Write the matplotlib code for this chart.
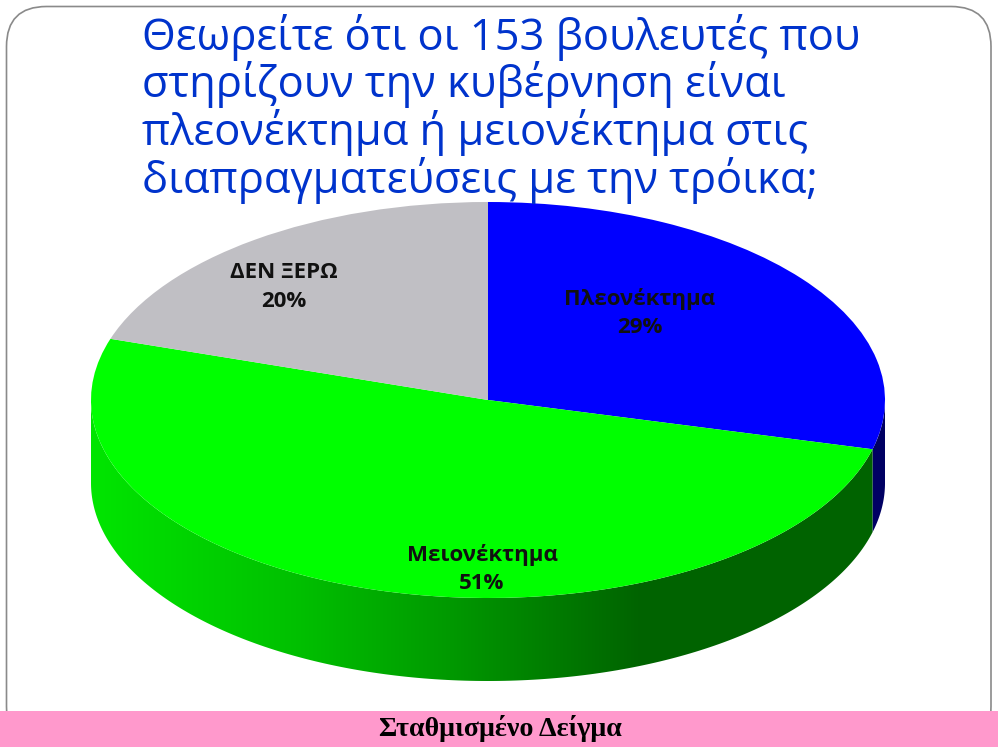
import numpy as np
import matplotlib
matplotlib.use('Agg')
import matplotlib.pyplot as plt
from matplotlib.patches import FancyBboxPatch, Rectangle, Polygon

W, H = 998, 747

title_lines = ['Θεωρείτε ότι οι 153 βουλευτές που',
               'στηρίζουν την κυβέρνηση είναι',
               'πλεονέκτημα ή μειονέκτημα στις',
               'διαπραγματεύσεις με την τρόικα;']
categories = ['Πλεονέκτημα', 'Μειονέκτημα', 'ΔΕΝ ΞΕΡΩ']
values = [29, 51, 20]
top_colors = ['#0000ff', '#00ff00', '#c0bfc4']
footer = 'Σταθμισμένο Δείγμα'

# pie ellipse in pixels
cx, cy = 488, 400
rx, ry = 397, 198
depth = 83 / ry


def draw_side(ax, a0, a1, base):
    # a0, a1 are clockwise degrees from the top of the pie
    a = np.radians(np.linspace(a0, a1, 200))
    xs = np.sin(a)
    ys = np.cos(a)
    outline = np.column_stack([np.r_[xs, xs[::-1]], np.r_[ys, ys[::-1] - depth]])
    # shading of the wall, lighter on the left and dark from x=640 on
    grid = np.linspace(-1, 1, 2 * rx)
    k = np.interp(cx + rx * grid, [91, 300, 450, 640, 885], [0.90, 0.75, 0.60, 0.39, 0.39])
    img = np.outer(k, base).reshape(1, len(grid), 3)
    im = ax.imshow(img, extent=(-1, 1, -1 - depth, 1), aspect='auto', zorder=1,
                   interpolation='bilinear')
    im.set_clip_path(Polygon(outline, closed=True, transform=ax.transData))


fig = plt.figure(figsize=(W / 100, H / 100), dpi=100)

ax = fig.add_axes([(cx - rx) / W, (H - cy - ry - 83) / H, 2 * rx / W, (2 * ry + 83) / H])
wedges, _ = ax.pie(values, colors=top_colors, startangle=90, counterclock=False, radius=1)
for w in wedges:
    w.set_zorder(2)

# visible wall runs from the right edge (90) round to the left edge (270)
edges = np.cumsum([0] + values) / sum(values) * 360
draw_side(ax, 90, edges[1], (0, 0, 1))
draw_side(ax, edges[1], 270, (0, 1, 0))

ax.set_aspect('auto')
ax.set_xlim(-1, 1)
ax.set_ylim(-1 - depth, 1)

# overlay in image pixels
ov = fig.add_axes([0, 0, 1, 1], zorder=3)
ov.set_xlim(0, W)
ov.set_ylim(H, 0)
ov.axis('off')

ov.add_patch(FancyBboxPatch((6.5, 6.5), 984.5, 740, boxstyle='round,pad=0,rounding_size=40',
                            fc='none', ec='#8a8a8a', lw=1.2))
ov.add_patch(Rectangle((0, 711), W, 36, fc='#ff99cc', ec='none'))
ov.text(500, 728, footer, family='Liberation Serif', weight='bold', fontsize=20.2,
        color='black', ha='center', va='center')

for i, line in enumerate(title_lines):
    ov.text(142, 50 + i * 47.5, line, family='Open Sans', fontsize=31.3, color='#0033cc',
            ha='left', va='baseline')

label_pos = [(640, 313), (482, 569), (284, 287)]
for name, v, (x, y) in zip(categories, values, label_pos):
    ov.text(x, y, name + '\n' + str(v) + '%', family='Open Sans', weight='bold', fontsize=16,
            color='#111111', ha='center', va='center', linespacing=1.45)

fig.savefig('out.png', dpi=100)
